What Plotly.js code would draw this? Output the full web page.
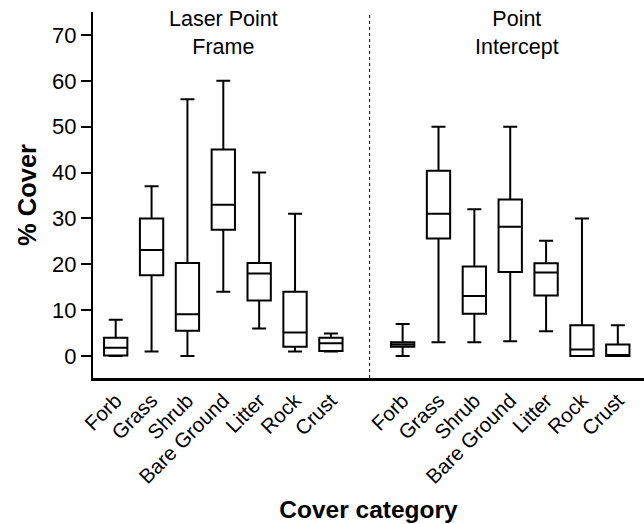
<!DOCTYPE html>
<html>
<head>
<meta charset="utf-8">
<script src="https://cdn.plot.ly/plotly-3.0.1.min.js"></script>
<style>html,body{margin:0;padding:0;background:#fff;}#chart{width:644px;height:524px;}</style>
</head>
<body>
<div id="chart"></div>
<script>
// ---- data ----
const categories = ["Forb", "Grass", "Shrub", "Bare Ground", "Litter", "Rock", "Crust"];
const groups = ["Laser Point<br>Frame", "Point<br>Intercept"];

// Laser Point Frame
const lpfLower  = [0,   1,    0,    14,   6,    1,   1];
const lpfQ1     = [0.1, 17.6, 5.5,  27.5, 12.1, 2.0, 1.1];
const lpfMedian = [1.8, 23.1, 9.1,  33,   18,   5.1, 2.8];
const lpfQ3     = [4.0, 30,   20.3, 45,   20.3, 14,  4.0];
const lpfUpper  = [7.9, 37,   56,   60,   40,   31,  4.9];

// Point Intercept
const piLower  = [0,   3.0,  3.0,  3.2,  5.4,  0,   0];
const piQ1     = [2.0, 25.6, 9.2,  18.3, 13.2, 0,   0];
const piMedian = [2.5, 31,   13.1, 28.2, 18.2, 1.4, 0.1];
const piQ3     = [3.0, 40.4, 19.5, 34.1, 20.2, 6.7, 2.5];
const piUpper  = [7.0, 50,   32,   50,   25.1, 30,  6.7];

const yTicks = [0, 10, 20, 30, 40, 50, 60, 70];

// ---- positions derived from category index ----
const n = categories.length;
const xLeft = categories.map((c, i) => i);
const xRight = categories.map((c, i) => i + n + 1);

const FONT = "Liberation Sans, Arial, Helvetica, sans-serif";

function boxTrace(x, lf, q1, med, q3, uf) {
  return {
    type: "box",
    x: x, lowerfence: lf, q1: q1, median: med, q3: q3, upperfence: uf,
    width: 0.65,
    whiskerwidth: 0.6,
    fillcolor: "#ffffff",
    line: {color: "#000000", width: 2},
    boxpoints: false,
    showlegend: false,
    hoverinfo: "skip"
  };
}

const data = [
  boxTrace(xLeft, lpfLower, lpfQ1, lpfMedian, lpfQ3, lpfUpper),
  boxTrace(xRight, piLower, piQ1, piMedian, piQ3, piUpper)
];

const layout = {
  width: 644, height: 524,
  margin: {l: 93, r: 0, t: 12, b: 146},
  paper_bgcolor: "#ffffff", plot_bgcolor: "#ffffff",
  font: {family: FONT, color: "#000000"},
  showlegend: false,
  xaxis: {
    range: [-0.633, 14.73],
    tickvals: xLeft.concat(xRight),
    ticktext: categories.concat(categories),
    tickangle: -45,
    ticks: "",
    tickfont: {size: 20.5, family: FONT, color: "#000"},
    showline: true, linecolor: "#000", linewidth: 2.5,
    showgrid: false, zeroline: false,
    title: {text: "<b>Cover category</b>", font: {size: 24.5, family: FONT, color: "#000"}, standoff: 14}
  },
  yaxis: {
    range: [-4.8, 75],
    tickvals: yTicks,
    ticks: "outside", ticklen: 10, tickwidth: 2, tickcolor: "#000",
    tickfont: {size: 22, family: FONT, color: "#000"},
    showline: true, linecolor: "#000", linewidth: 2,
    showgrid: false, zeroline: false,
    title: {text: "<b>% Cover</b>", font: {size: 25.5, family: FONT, color: "#000"}, standoff: 8}
  },
  shapes: [{
    type: "line", xref: "x", yref: "paper",
    x0: (n - 1 + n + 1) / 2 + 0.08, x1: (n - 1 + n + 1) / 2 + 0.08, y0: 0, y1: 1,
    line: {color: "#000", width: 1, dash: "dot"}
  }],
  annotations: [
    {xref: "x", yref: "paper", x: (n - 1) / 2, y: 0.943, text: groups[0], showarrow: false,
     font: {size: 21.5, family: FONT, color: "#000"}, xanchor: "center", yanchor: "middle"},
    {xref: "x", yref: "paper", x: n + 1 + (n - 1) / 2 + 0.2, y: 0.943, text: groups[1], showarrow: false,
     font: {size: 21.5, family: FONT, color: "#000"}, xanchor: "center", yanchor: "middle"}
  ]
};

Plotly.newPlot("chart", data, layout, {staticPlot: true, displayModeBar: false});
</script>
</body>
</html>
